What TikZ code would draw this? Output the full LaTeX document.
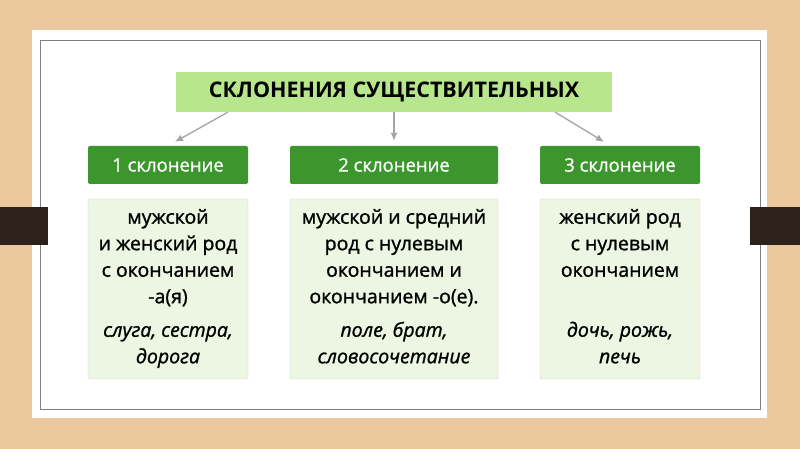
\documentclass[tikz,border=0pt]{standalone}
\usepackage{fontspec}
\setmainfont{Open Sans}
\usepackage{tikz}
\usetikzlibrary{arrows.meta}
\definecolor{wood}{RGB}{236,200,158}
\definecolor{tabdark}{RGB}{45,33,28}
\definecolor{titlegreen}{RGB}{184,230,140}
\definecolor{headgreen}{RGB}{60,150,45}
\definecolor{bodygreen}{RGB}{237,246,226}
\definecolor{bodyline}{RGB}{208,216,200}
\definecolor{arrowgrey}{RGB}{160,165,170}

\begin{document}
\begin{tikzpicture}[x=1pt, y=-1pt,
  headbox/.style={fill=headgreen, text=white, minimum width=#1, minimum height=38pt, rounded corners=2pt, font=\fontsize{18.5}{20}\selectfont\addfontfeature{FakeBold=1}},
  bodybox/.style={draw=bodyline, fill=bodygreen, minimum width=#1, minimum height=180pt, rounded corners=2pt},
  bodytext/.style={align=center, inner sep=0pt, anchor=north, font=\fontsize{19.5}{26.5}\selectfont\addfontfeature{FakeBold=1.2}},
  arrowline/.style={draw=arrowgrey, line width=1.3pt, -{Latex[length=8pt, width=7pt]}}]
\useasboundingbox (0,0) rectangle (800,449);
\fill[wood] (0,0) rectangle (800,449);
\fill[white] (32,30) rectangle (767,418);
\draw[gray, line width=0.8pt] (40,40) rectangle (760,409);
\fill[tabdark] (0,207) rectangle (48,245);
\fill[tabdark] (750,207) rectangle (800,245);
\node[fill=titlegreen, minimum width=436pt, minimum height=40pt, font=\fontsize{21.5}{24}\selectfont\bfseries] (title) at (394,92) {СКЛОНЕНИЯ СУЩЕСТВИТЕЛЬНЫХ};
\node[headbox=160pt] (h1) at (168,165) {1 склонение};
\node[headbox=208pt] (h2) at (394,165) {2 склонение};
\node[headbox=160pt] (h3) at (620,165) {3 склонение};
\draw[arrowline] ([xshift=52pt]title.south west) -- ([xshift=7pt, yshift=4pt]h1.north);
\draw[arrowline] (title.south) -- ([yshift=5pt]h2.north);
\draw[arrowline] ([xshift=-57pt]title.south east) -- ([xshift=-16pt, yshift=4pt]h3.north);
\node[bodybox=160pt] (b1) at (168,289) {};
\node[bodybox=208pt] (b2) at (394,289) {};
\node[bodybox=160pt] (b3) at (620,289) {};
\node[bodytext] (t1) at ([yshift=-10pt]b1.north) {мужской\\ и женский род\\ с окончанием\\ -а(я)\\[7pt] \textit{слуга, сестра,}\\ \textit{дорога}};
\node[bodytext] (t2) at ([yshift=-10pt]b2.north) {мужской и средний\\ род с нулевым\\ окончанием и\\ окончанием -о(е).\\[7pt] \textit{поле, брат,}\\ \textit{словосочетание}};
\node[bodytext] (t3) at ([yshift=-10pt]b3.north) {женский род\\ с нулевым\\ окончанием\\ \mbox{}\\[7pt] \textit{дочь, рожь,}\\ \textit{печь}};
\end{tikzpicture}
\end{document}
